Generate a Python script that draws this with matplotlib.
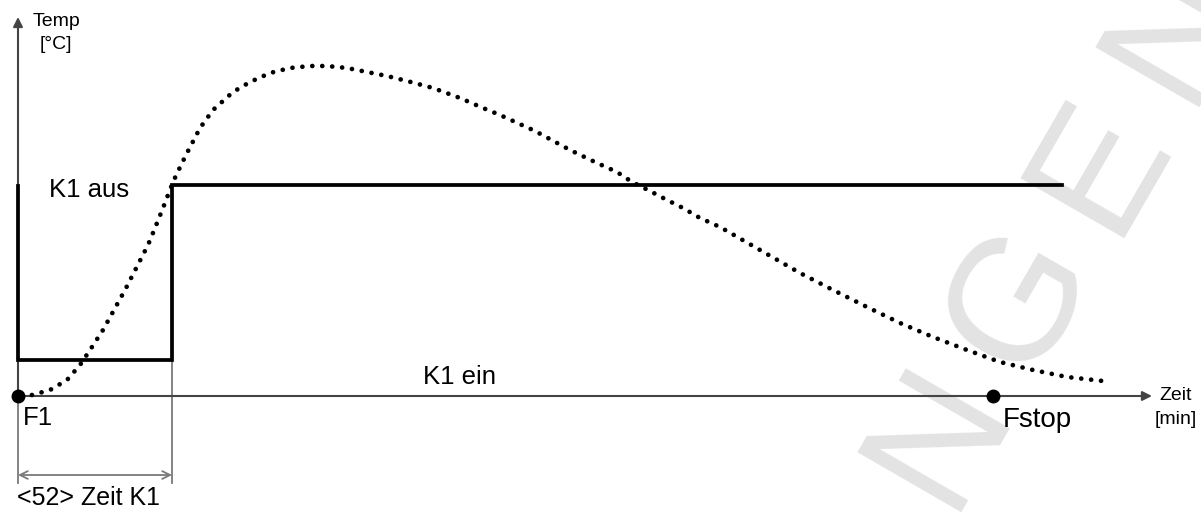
import matplotlib
matplotlib.use("Agg")
import matplotlib.pyplot as plt

plt.rcParams['font.family'] = ['Liberation Sans', 'DejaVu Sans']

# schematic units: time to the right, temperature upwards (origin = F1)
curve_time = [4, 14, 32, 49, 62, 72, 85, 107, 130, 137, 145, 155, 164, 169,
              182, 195, 215, 232, 252, 272, 292, 309, 329, 349, 369, 389,
              415, 442, 465, 482, 517, 552, 579, 599, 614, 630, 649, 665,
              682, 702, 742, 782, 815, 849, 882, 915, 949, 982, 1015, 1049,
              1085]
curve_temp = [0, 1, 6, 16, 31, 46, 66, 106, 151, 168, 188, 214, 233, 243,
              268, 286, 304, 314, 323, 328, 330, 330, 328, 324, 320, 315,
              308, 298, 288, 281, 265, 246, 233, 224, 214, 206, 196, 188,
              178, 169, 146, 123, 106, 89, 73, 59, 46, 34, 26, 19, 15]

# K1 switching signal (high = aus, low = ein)
k1_time = [0, 0, 154, 154, 1044]
k1_level = [210, 36, 36, 211, 211]

f1_time = 0
fstop_time = 975
k1_end = 154
t_axis_end = 1134
temp_axis_end = 379
dim_bottom = -87
dim_level = -79

axis_col = '#444444'
dim_col = '#7a7a7a'

fig = plt.figure(figsize=(12.01, 5.12), dpi=100)
ax = fig.add_axes([0, 0, 1, 1])
ax.set_xlim(-18, 1183)
ax.set_ylim(-116, 396)
ax.axis('off')

# watermark (runs off the picture edge, as in the original)
wm_pos = [(922, -39, 'N'), (1002, 96, 'G'), (1082, 231, 'E'), (1160, 366, 'N')]
for x, y, ch in wm_pos:
    ax.text(x, y, ch, fontsize=125, color='#e3e3e3', rotation=60,
            rotation_mode='anchor', ha='center', va='center', zorder=0)

# axes with arrows
ax.annotate('', xy=(0, temp_axis_end), xytext=(0, 0),
            arrowprops=dict(arrowstyle='-|>', color=axis_col, lw=1.5,
                            mutation_scale=14, shrinkA=0, shrinkB=0))
ax.annotate('', xy=(t_axis_end, 0), xytext=(0, 0),
            arrowprops=dict(arrowstyle='-|>', color=axis_col, lw=1.5,
                            mutation_scale=14, shrinkA=0, shrinkB=0))

# dimension lines for Zeit K1
ax.plot([0, 0], [0, dim_bottom], color=dim_col, lw=1.3)
ax.plot([k1_end, k1_end], [k1_level[2], dim_bottom], color=dim_col, lw=1.3)
ax.annotate('', xy=(k1_end, dim_level), xytext=(0, dim_level),
            arrowprops=dict(arrowstyle='<->', color=dim_col, lw=1.3,
                            mutation_scale=14, shrinkA=0, shrinkB=0))

# K1 step line
ax.plot(k1_time, k1_level, color='black', lw=2.7, solid_joinstyle='miter',
        zorder=3)

# temperature curve
ax.plot(curve_time, curve_temp, color='black', lw=3.4,
        linestyle=(0, (0.01, 2.1)), dash_capstyle='round', zorder=4)

# F1 / Fstop points
ax.plot([f1_time, fstop_time], [0, 0], 'o', color='black', ms=9, zorder=5)

# labels
ax.text(15, 370, 'Temp', fontsize=14, va='baseline')
ax.text(22, 347, '[°C]', fontsize=14, va='baseline')
ax.text(31, 199, 'K1 aus', fontsize=18.5, va='baseline')
ax.text(405, 12, 'K1 ein', fontsize=18.5, va='baseline')
ax.text(5, -29, 'F1', fontsize=18.5, va='baseline')
ax.text(985, -31, 'Fstop', fontsize=20, va='baseline')
ax.text(1141, -4, 'Zeit', fontsize=14, va='baseline')
ax.text(1137, -28, '[min]', fontsize=14, va='baseline')
ax.text(-1, -109, '<52> Zeit K1', fontsize=18, va='baseline')

fig.savefig('out.png', dpi=100)
